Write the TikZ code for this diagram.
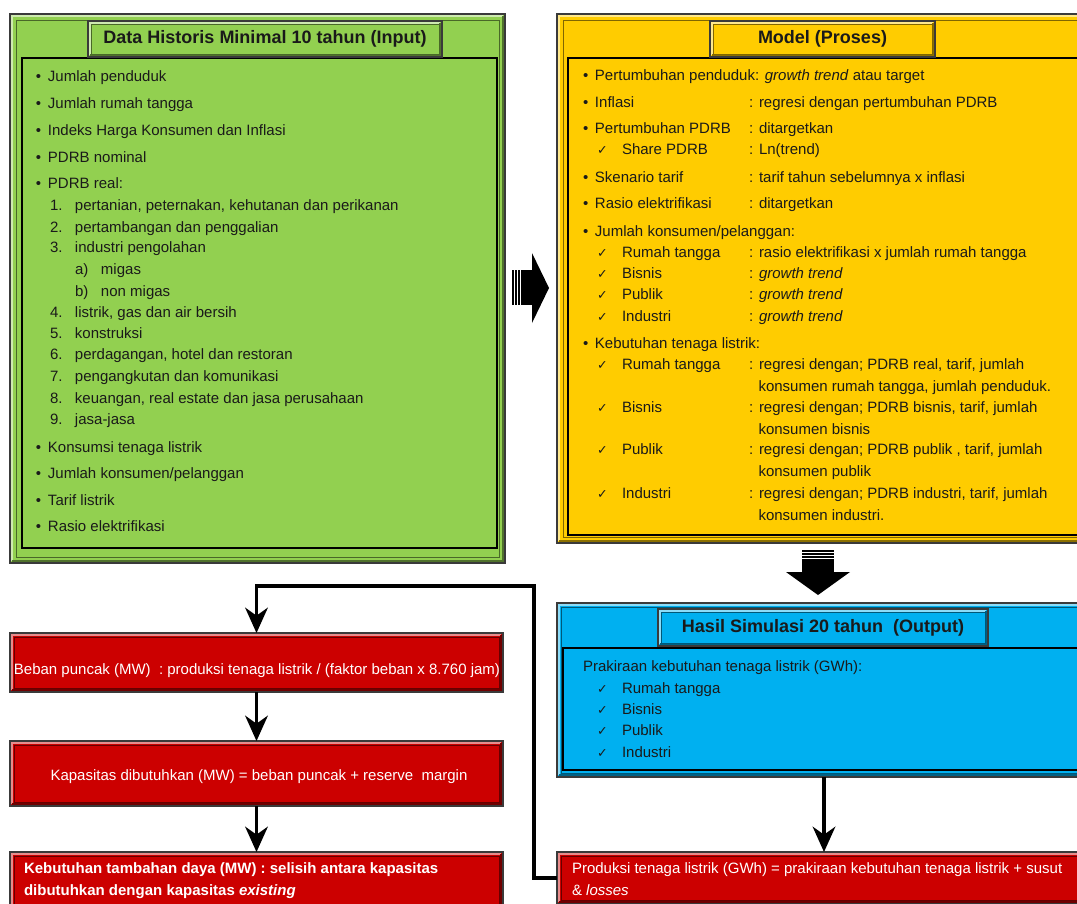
\documentclass[tikz,border=0pt]{standalone}
\usepackage{fontspec}
\setmainfont{Liberation Sans}
\newfontfamily\dejavu{DejaVu Sans}
\usetikzlibrary{arrows.meta}
\definecolor{gfill}{HTML}{92D050}
\definecolor{yfill}{HTML}{FFCC00}
\definecolor{bfill}{HTML}{00B0F0}
\definecolor{rfill}{HTML}{CC0000}
\definecolor{framec}{HTML}{3A3A3A}
\definecolor{txtc}{HTML}{1A1A1A}
\newcommand\bul{\makebox[9pt][l]{\textbullet}}
\newcommand\chk{\makebox[18.75pt][l]{{\dejavu\fontsize{9.5}{9.5}\selectfont ✓}}}
\newcommand\nn[1]{\makebox[18.75pt][l]{#1}}
\newcommand\ab[1]{\makebox[19.5pt][l]{#1}}
\newcommand\cl{\makebox[7.5pt][l]{:}}
\newcommand\bevel[3]{%
  \draw[#2!45!white, line width=1.4pt] ([shift={(2,-2)}]#1.south west) -- ([shift={(2,2)}]#1.north west) -- ([shift={(-2,2)}]#1.north east);
  \draw[#2!55!black, line width=1.4pt] ([shift={(2,-2)}]#1.south west) -- ([shift={(-2,-2)}]#1.south east) -- ([shift={(-2,2)}]#1.north east);
  \draw[#2!50!black, line width=0.7pt] ([shift={(#3,#3)}]#1.north west) rectangle ([shift={(-#3,-#3)}]#1.south east);
}
\begin{document}
\begin{tikzpicture}[x=0.75pt,y=-0.75pt,
  every node/.style={inner sep=0pt, outer sep=0pt},
  body/.style={anchor=mid west, yshift=-1.5pt, font=\fontsize{11.25}{13}\selectfont, text=txtc},
  wbody/.style={anchor=mid west, yshift=-1.5pt, font=\fontsize{11.25}{13}\selectfont, text=white},
  frame/.style={draw=framec, line width=1.2pt, anchor=north west},
  ttl/.style={frame, font=\bfseries\fontsize{13.5}{16}\selectfont, text=txtc},
  conn/.style={line width=2.3pt, -{Stealth[length=19pt,width=17pt,inset=6pt]}},
]
\useasboundingbox (0,0) rectangle (1077,903);
\fill[white] (0,0) rectangle (1077,903);
\clip (0,0) rectangle (1077,903);

% ---------- green input box ----------
\node[frame, fill=gfill, minimum width=495*0.75pt, minimum height=549*0.75pt] (green) at (10,14) {};
\bevel{green}{gfill}{6}
\node[frame, draw=black, minimum width=475*0.75pt, minimum height=490*0.75pt] (gin) at (22,58) {};
\node[ttl, fill=gfill, minimum width=354*0.75pt, minimum height=36*0.75pt] (gt) at (88,21) {Data Historis Minimal 10 tahun (Input)};
\bevel{gt}{gfill}{3}

\foreach \y/\txt [count=\i] in {76/{Jumlah penduduk}, 103/{Jumlah rumah  tangga}, 130/{Indeks Harga Konsumen dan Inflasi}, 157/{PDRB nominal}, 183/{PDRB real:}, 447/{Konsumsi tenaga listrik}, 473/{Jumlah konsumen/pelanggan}, 500/{Tarif listrik}, 526/{Rasio elektrifikasi}}
  \node[body] (gb\i) at (36,\y) {\bul\txt};
\foreach \y/\no/\txt [count=\i] in {205/1./{pertanian, peternakan,  kehutanan dan perikanan}, 227/2./{pertambangan dan penggalian}, 247/3./{industri pengolahan}, 312/4./{listrik, gas dan air bersih}, 333/5./{konstruksi}, 354/6./{perdagangan, hotel dan restoran}, 376/7./{pengangkutan dan komunikasi}, 398/8./{keuangan, real estate dan jasa perusahaan}, 419/9./{jasa-jasa}}
  \node[body] (gn\i) at (50,\y) {\nn{\no}\txt};
\node[body] (ga) at (75,269) {\ab{a)}migas};
\node[body] (gbb) at (75,291) {\ab{b)}non migas};

% ---------- yellow model box ----------
\node[frame, fill=yfill, minimum width=560*0.75pt, minimum height=529*0.75pt] (yellow) at (557,14) {};
\bevel{yellow}{yfill}{6}
\node[frame, draw=black, minimum width=530*0.75pt, minimum height=477*0.75pt] (yin) at (568,58) {};
\node[ttl, fill=yfill, minimum width=225*0.75pt, minimum height=36*0.75pt] (yt) at (710,21) {Model (Proses)};
\bevel{yt}{yfill}{3}

\node[body] (y1) at (583,75) {\bul Pertumbuhan penduduk: \textit{growth trend} atau target};
\foreach \y/\a/\b [count=\i] in {102/{Inflasi}/{regresi dengan pertumbuhan PDRB}, 128/{Pertumbuhan PDRB}/{ditargetkan}, 177/{Skenario tarif}/{tarif tahun sebelumnya x inflasi}, 203/{Rasio elektrifikasi}/{ditargetkan}}
  {\node[body] (yl\i) at (583,\y) {\bul\a};
   \node[body] (yr\i) at (749,\y) {\cl\b};}
\node[body] (ys) at (597,149) {\chk Share PDRB};
\node[body] (ysr) at (749,149) {\cl Ln(trend)};
\node[body] (yk) at (583,231) {\bul Jumlah konsumen/pelanggan:};
\foreach \y/\a/\b [count=\i] in {252/{Rumah tangga}/{rasio elektrifikasi x jumlah rumah  tangga}, 273/{Bisnis}/{\textit{growth  trend}}, 294/{Publik}/{\textit{growth  trend}}, 316/{Industri}/{\textit{growth  trend}}}
  {\node[body] (ykl\i) at (597,\y) {\chk\a};
   \node[body] (ykr\i) at (749,\y) {\cl\b};}
\node[body] (yb) at (583,343) {\bul Kebutuhan tenaga listrik:};
\foreach \y/\a/\b/\c [count=\i] in {364/{Rumah tangga}/{regresi dengan; PDRB real, tarif, jumlah}/{konsumen rumah tangga, jumlah penduduk.}, 407/{Bisnis}/{regresi dengan; PDRB bisnis, tarif, jumlah}/{konsumen bisnis}, 449/{Publik}/{regresi dengan; PDRB publik , tarif, jumlah}/{konsumen publik}, 493/{Industri}/{regresi dengan; PDRB industri, tarif, jumlah}/{konsumen industri.}}
  {\node[body] (ybl\i) at (597,\y) {\chk\a};
   \node[body] (ybr\i) at (749,\y) {\cl\b};
   \node[body] (ybc\i) at (758.5,\y+21.5) {\c};}

% ---------- block arrows ----------
\fill[black] (521,270) rectangle (533,305);
\fill[black] (512,270) rectangle (513.6,305);
\fill[black] (515.2,270) rectangle (516.8,305);
\fill[black] (518.4,270) rectangle (520,305);
\fill[black] (532,253) -- (549,288) -- (532,323) -- cycle;

\fill[black] (802,550) rectangle (834,551.6);
\fill[black] (802,553.2) rectangle (834,554.8);
\fill[black] (802,556.4) rectangle (834,558);
\fill[black] (802,559) rectangle (834,573);
\fill[black] (786,572) -- (850,572) -- (818,595) -- cycle;

% ---------- blue output box ----------
\node[frame, fill=bfill, minimum width=560*0.75pt, minimum height=174*0.75pt] (blue) at (557,603) {};
\bevel{blue}{bfill}{4}
\node[frame, draw=black, minimum width=530*0.75pt, minimum height=122*0.75pt] (bin) at (563,648) {};
\node[ttl, fill=bfill, minimum width=330*0.75pt, minimum height=37*0.75pt] (bt) at (658,609) {Hasil Simulasi 20 tahun\ \ (Output)};
\bevel{bt}{bfill}{3}
\node[body] (bp) at (583,666) {Prakiraan kebutuhan tenaga listrik (GWh):};
\foreach \y/\a [count=\i] in {688/{Rumah tangga}, 709/{Bisnis}, 730/{Publik}, 752/{Industri}}
  \node[body] (bo\i) at (597,\y) {\chk\a};

% ---------- red boxes ----------
\node[frame, fill=rfill, minimum width=493*0.75pt, minimum height=59*0.75pt] (beban) at (10,633) {};
\bevel{beban}{rfill}{4}
\node[wbody, anchor=mid] (bebant) at (257,669) {Beban puncak (MW)\ \ : produksi tenaga listrik / (faktor beban x 8.760 jam)};

\node[frame, fill=rfill, minimum width=493*0.75pt, minimum height=65*0.75pt] (kap) at (10,741) {};
\bevel{kap}{rfill}{4}
\node[wbody, anchor=mid] (kapt) at (259,775) {Kapasitas dibutuhkan (MW) = beban puncak + reserve\ \ margin};

\node[frame, fill=rfill, minimum width=493*0.75pt, minimum height=60*0.75pt] (keb) at (10,852) {};
\bevel{keb}{rfill}{4}
\node[wbody, font=\bfseries\fontsize{11.25}{13}\selectfont] (kebt1) at (24,868) {Kebutuhan tambahan daya (MW) : selisih antara kapasitas};
\node[wbody, font=\bfseries\fontsize{11.25}{13}\selectfont] (kebt2) at (24,890) {dibutuhkan dengan kapasitas \textit{existing}};

\node[frame, fill=rfill, minimum width=560*0.75pt, minimum height=52*0.75pt] (prod) at (557,852) {};
\bevel{prod}{rfill}{4}
\node[wbody] (prodt1) at (572,868) {Produksi tenaga listrik (GWh) = prakiraan kebutuhan tenaga listrik + susut};
\node[wbody] (prodt2) at (572,890) {\& \textit{losses}};

% ---------- connectors ----------
\draw[conn] (beban) -- (kap);
\draw[conn] (kap) -- (keb);
\draw[conn] ([shift={(267,0)}]blue.south west) -- ([shift={(267,0)}]prod.north west);
\draw[conn] (prod.west) -| (534,586) -| (beban.north);
\end{tikzpicture}
\end{document}
